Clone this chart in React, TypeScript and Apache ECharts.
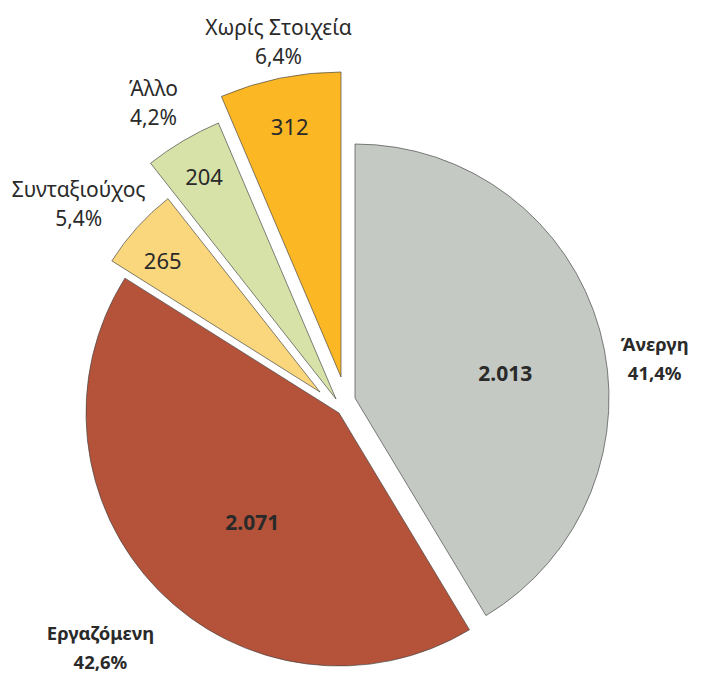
import React, { useEffect, useRef } from "react";
import * as echarts from "echarts";

// ---- data ----
const CATEGORIES = ["Άνεργη", "Εργαζόμενη", "Συνταξιούχος", "Άλλο", "Χωρίς Στοιχεία"];
const VALUES = [2013, 2071, 265, 204, 312];

// ---- styles ----
const COLORS = ["#C4C9C4", "#B5533A", "#FAD77D", "#D6E2A8", "#FCB724"];
const BOLD = [true, true, false, false, false];
const FONT = "'Noto Sans', 'DejaVu Sans', sans-serif";

// ---- layout (pixels / ratios) ----
const BASE_CENTER = [355, 398];
const SLICE_SHIFT = [[0, 0], [-16, 15], [-35, -6], [-19, 1], [-14, -21]];
const SLICE_RADIUS = [254, 253, 246, 300, 305];
const INNER_RATIO = [0.6, 0.55, 0.835, 0.863, 0.84];
const INNER_TURN = [6, -7, -2, 0, 0];
const OUTER_RATIO = [1.19, 1.32, 1.245, 1.16, 1.12];
const OUTER_TURN = [8, 0, -4, -1, 1];

const TOTAL = VALUES.reduce((a, b) => a + b, 0);

function fmtValue(v: number): string {
  return String(v).replace(/\B(?=(\d{3})+(?!\d))/g, ".");
}
function fmtPct(v: number): string {
  return (v / TOTAL * 100).toFixed(1).replace(".", ",") + "%";
}
function centerOf(k: number): number[] {
  return [BASE_CENTER[0] + SLICE_SHIFT[k][0], BASE_CENTER[1] + SLICE_SHIFT[k][1]];
}
function midAngle(k: number): number {
  let before = 0;
  for (let i = 0; i < k; i++) before += VALUES[i];
  return (before + VALUES[k] / 2) / TOTAL * 360;
}
function labelPoint(k: number, ratio: number, turn: number) {
  const c = centerOf(k);
  const a = (midAngle(k) + turn) * Math.PI / 180;
  const r = ratio * SLICE_RADIUS[k];
  return { x: c[0] + r * Math.sin(a), y: c[1] - r * Math.cos(a) };
}

function buildOption() {
  const sliceSeries = CATEGORIES.map((_, k) => ({
    type: "pie",
    name: CATEGORIES[k],
    center: centerOf(k),
    radius: [0, SLICE_RADIUS[k]],
    startAngle: 90,
    clockwise: true,
    silent: true,
    avoidLabelOverlap: false,
    emphasis: { disabled: true },
    labelLine: { show: false },
    label: {
      show: true,
      position: "inside",
      formatter: (p: any) => fmtValue(p.value),
      fontFamily: FONT,
      fontSize: BOLD[k] ? 21 : 22,
      fontWeight: BOLD[k] ? "bold" : "normal",
      color: "#2a2a2a",
    },
    labelLayout: (p: any) => labelPoint(p.dataIndex, INNER_RATIO[p.dataIndex], INNER_TURN[p.dataIndex]),
    data: CATEGORIES.map((name, i) => ({
      name,
      value: VALUES[i],
      itemStyle: i === k
        ? { color: COLORS[i], borderColor: "rgba(70,70,70,0.85)", borderWidth: 0.8 }
        : { color: "rgba(0,0,0,0)", borderWidth: 0 },
      label: { show: i === k },
    })),
  }));

  const outerLabels = {
    type: "pie",
    name: "labels",
    center: BASE_CENTER,
    radius: [0, 1],
    startAngle: 90,
    clockwise: true,
    silent: true,
    avoidLabelOverlap: false,
    emphasis: { disabled: true },
    labelLine: { show: false },
    label: {
      show: true,
      position: "inside",
      formatter: (p: any) => p.name + "\n" + fmtPct(p.value),
      fontFamily: FONT,
      fontSize: 21,
      lineHeight: 29,
      align: "center",
      color: "#2a2a2a",
    },
    labelLayout: (p: any) => labelPoint(p.dataIndex, OUTER_RATIO[p.dataIndex], OUTER_TURN[p.dataIndex]),
    itemStyle: { color: "rgba(0,0,0,0)", borderWidth: 0 },
    data: CATEGORIES.map((name, i) => ({
      name,
      value: VALUES[i],
      label: { fontWeight: BOLD[i] ? "bold" : "normal", fontSize: BOLD[i] ? 18.5 : 21 },
    })),
  };

  return {
    animation: false,
    backgroundColor: "#ffffff",
    series: [...sliceSeries, outerLabels],
  };
}

export default function App() {
  const ref = useRef<HTMLDivElement>(null);
  useEffect(() => {
    document.body.style.margin = "0";
    if (!ref.current) return;
    const chart = echarts.init(ref.current, null, { renderer: "svg" });
    chart.setOption(buildOption() as any);
    return () => chart.dispose();
  }, []);
  return <div ref={ref} style={{ width: 702, height: 675 }} />;
}
